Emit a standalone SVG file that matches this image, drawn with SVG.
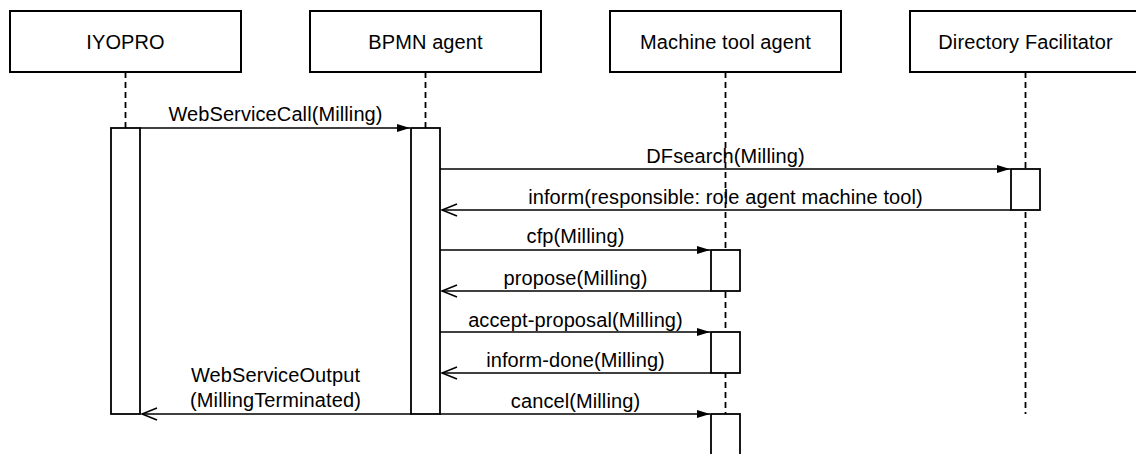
<svg xmlns="http://www.w3.org/2000/svg" width="1136" height="454" viewBox="0 0 1136 454">
<style>
  .box{fill:#fff;stroke:#000;stroke-width:2}
  .act{fill:#fff;stroke:#000;stroke-width:1.8}
  .life{stroke:#000;stroke-width:1.8;stroke-dasharray:6 4;fill:none}
  .msg{stroke:#000;stroke-width:1.6;fill:none}
  .fill{marker-end:url(#filled)}
  .open{marker-end:url(#openA)}
  text{font-family:"Liberation Sans",Arial,sans-serif;font-size:20px;letter-spacing:0.1px;fill:#000;text-anchor:middle}
</style>
<defs>
  <marker id="filled" markerUnits="userSpaceOnUse" markerWidth="14" markerHeight="10" refX="13" refY="4.5" orient="auto">
    <path d="M0,0.5 L13,4.5 L0,8.5 Z" fill="#000"/>
  </marker>
  <marker id="openA" markerUnits="userSpaceOnUse" markerWidth="18" markerHeight="14" refX="16" refY="7" orient="auto">
    <path d="M1,1 L16,7 L1,13" fill="none" stroke="#000" stroke-width="1.6"/>
  </marker>
</defs>
<rect width="1136" height="454" fill="#fff"/>

<g id="lifelines">
  <line class="life" x1="125.5" y1="72" x2="125.5" y2="128"/>
  <line class="life" x1="425.5" y1="72" x2="425.5" y2="128"/>
  <line class="life" x1="725.5" y1="72" x2="725.5" y2="454"/>
  <line class="life" x1="1025.5" y1="72" x2="1025.5" y2="414"/>
</g>

<g id="iyopro">
  <rect class="box" x="10" y="11" width="231" height="61"/>
  <text x="125.5" y="49">IYOPRO</text>
  <rect class="act" x="111" y="128" width="29" height="286"/>
</g>
<g id="bpmn-agent">
  <rect class="box" x="310" y="11" width="231" height="61"/>
  <text x="425.5" y="49">BPMN agent</text>
  <rect class="act" x="411" y="128" width="29" height="286"/>
</g>
<g id="machine-tool-agent">
  <rect class="box" x="610" y="11" width="231" height="61"/>
  <text x="725.5" y="49">Machine tool agent</text>
  <rect class="act" x="711" y="250" width="29" height="41"/>
  <rect class="act" x="711" y="332" width="29" height="41"/>
  <rect class="act" x="711" y="414" width="29" height="50"/>
</g>
<g id="directory-facilitator">
  <rect class="box" x="910" y="11" width="231" height="61"/>
  <text x="1025.5" y="49">Directory Facilitator</text>
  <rect class="act" x="1011" y="169" width="29" height="41"/>
</g>

<g id="connectors">
  <line class="msg fill" x1="140" y1="128" x2="410" y2="128"/>
  <text x="275.5" y="121">WebServiceCall(Milling)</text>

  <line class="msg fill" x1="440" y1="169" x2="1010" y2="169"/>
  <text x="725.5" y="163">DFsearch(Milling)</text>

  <line class="msg open" x1="1011" y1="210" x2="442" y2="210"/>
  <text x="725.5" y="204">inform(responsible: role agent machine tool)</text>

  <line class="msg fill" x1="440" y1="250" x2="710" y2="250"/>
  <text x="575.5" y="243">cfp(Milling)</text>

  <line class="msg open" x1="711" y1="291" x2="442" y2="291"/>
  <text x="575.5" y="285">propose(Milling)</text>

  <line class="msg fill" x1="440" y1="332" x2="710" y2="332"/>
  <text x="575.5" y="327">accept-proposal(Milling)</text>

  <line class="msg open" x1="711" y1="373" x2="442" y2="373"/>
  <text x="575.5" y="367">inform-done(Milling)</text>

  <line class="msg fill" x1="440" y1="414" x2="710" y2="414"/>
  <text x="575.5" y="408">cancel(Milling)</text>

  <line class="msg open" x1="411" y1="414" x2="142" y2="414"/>
  <text x="275.5" y="382">WebServiceOutput</text>
  <text x="275.5" y="407">(MillingTerminated)</text>
</g>
</svg>
